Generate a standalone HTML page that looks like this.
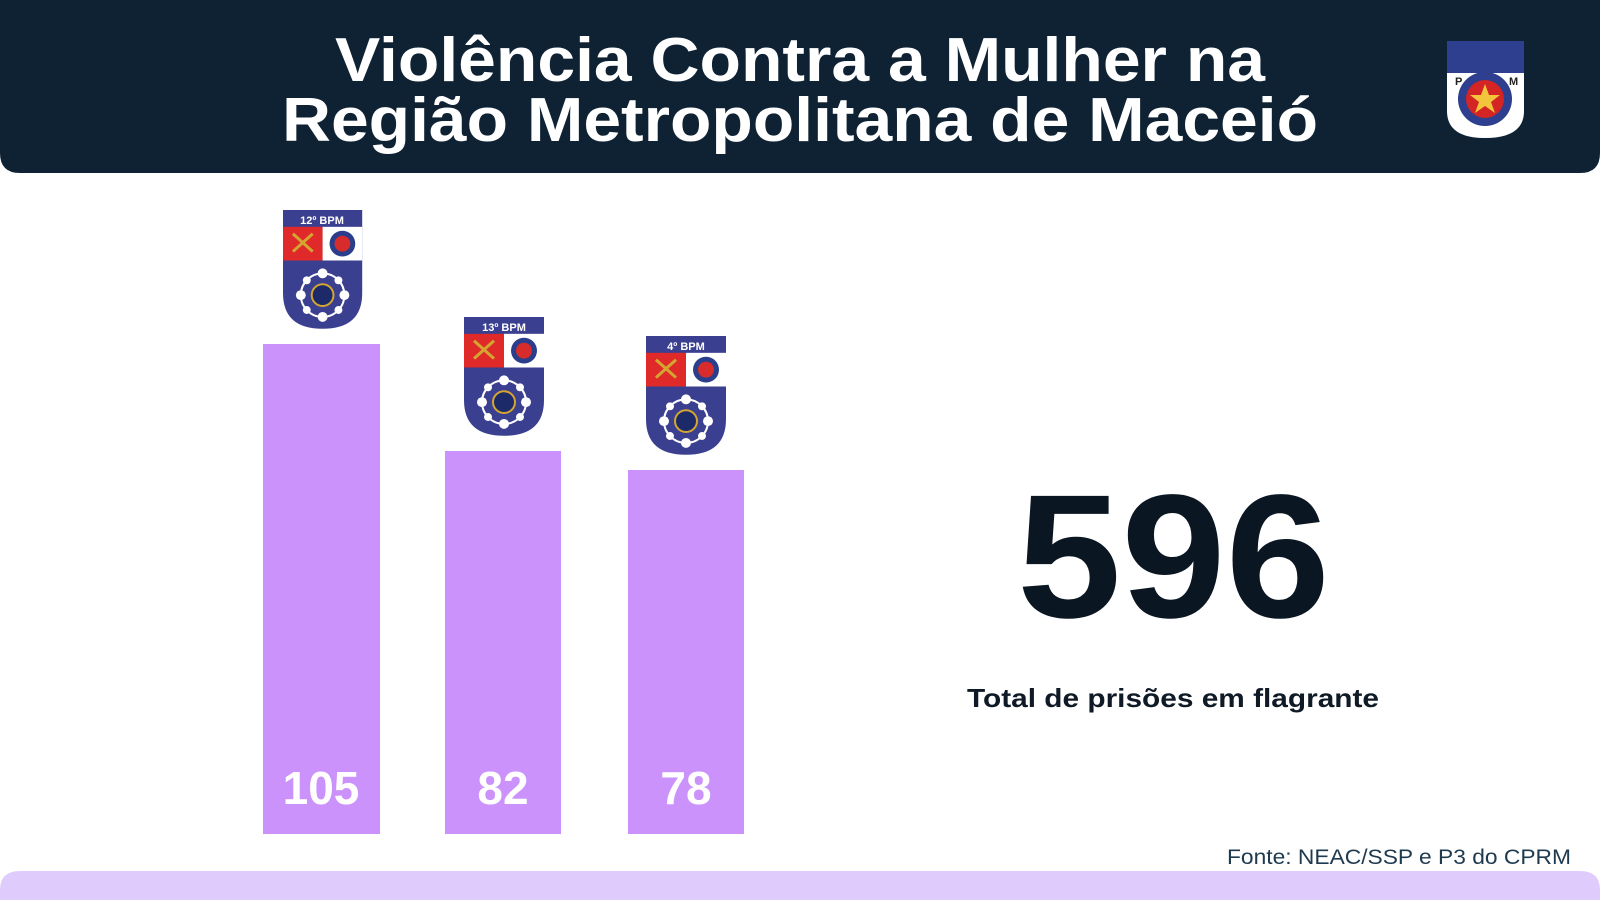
<!DOCTYPE html>
<html><head><meta charset="utf-8"><style>
html,body{margin:0;padding:0;width:1600px;height:900px;overflow:hidden;background:#fff}
svg{display:block}
</style></head><body>
<svg width="1600" height="900" viewBox="0 0 1600 900" xmlns="http://www.w3.org/2000/svg">
<defs>
<g id="badge">
 <path d="M0,0 H80 V84 Q80,120 40,120 Q0,120 0,84 Z" fill="#3a3f8f"/>
 <rect x="0" y="17" width="40" height="34" fill="#e02a2a"/>
 <rect x="40" y="17" width="40" height="34" fill="#fff"/>
 <path d="M10,42 L30,24 M10,24 L30,42" stroke="#d4a630" stroke-width="3"/>
 <circle cx="60" cy="34" r="13" fill="#2b3e8c"/>
 <circle cx="60" cy="34" r="8" fill="#d82b2b"/>
 <circle cx="40" cy="86" r="22" fill="none" stroke="#fff" stroke-width="2"/>
 <circle cx="40" cy="86" r="11" fill="#1c2a6a" stroke="#d4a630" stroke-width="2"/>
 <circle cx="40" cy="64" r="5" fill="#fff"/><circle cx="62" cy="86" r="5" fill="#fff"/>
 <circle cx="18" cy="86" r="5" fill="#fff"/><circle cx="40" cy="108" r="5" fill="#fff"/>
 <circle cx="56" cy="71" r="4" fill="#fff"/><circle cx="24" cy="71" r="4" fill="#fff"/>
 <circle cx="56" cy="101" r="4" fill="#fff"/><circle cx="24" cy="101" r="4" fill="#fff"/>
</g>
</defs>
<path d="M0,0 H1600 V153 Q1600,173 1580,173 H20 Q0,173 0,153 Z" fill="#0f2233"/>
<g font-family="Liberation Sans, sans-serif" font-weight="bold" fill="#fff" font-size="62">
<text x="335" y="81" textLength="930" lengthAdjust="spacingAndGlyphs">Violência Contra a Mulher na</text>
<text x="282" y="141" textLength="1036" lengthAdjust="spacingAndGlyphs">Região Metropolitana de Maceió</text>
</g>
<g transform="translate(1447,41)">
 <path d="M0,0 H77 V70 Q77,97 38,97 Q0,97 0,70 Z" fill="#fff"/>
 <rect x="0" y="0" width="77" height="32" fill="#2d3f8e"/>
 <circle cx="38" cy="58" r="27" fill="#2d3f8e"/>
 <circle cx="38" cy="58" r="19" fill="#d42424"/>
 <polygon points="38,43 42,54 53,54 44,61 48,72 38,65 28,72 32,61 23,54 34,54" fill="#f2c53d"/>
 <text x="8" y="44" font-family="Liberation Sans" font-weight="bold" font-size="11" fill="#222">P</text>
 <text x="62" y="44" font-family="Liberation Sans" font-weight="bold" font-size="11" fill="#222">M</text>
</g>
<g fill="#cc92fc">
<rect x="263" y="344" width="117" height="490"/>
<rect x="445" y="451" width="116" height="383"/>
<rect x="628" y="470" width="116" height="364"/>
</g>
<g font-family="Liberation Sans, sans-serif" font-weight="bold" fill="#fff" text-anchor="middle" font-size="46">
<text x="321" y="804">105</text>
<text x="503" y="804">82</text>
<text x="686" y="804">78</text>
</g>
<use href="#badge" transform="translate(283,210) scale(0.99,0.99)"/>
<use href="#badge" transform="translate(464,317) scale(1,0.99)"/>
<use href="#badge" transform="translate(646,336) scale(1,0.99)"/>
<g font-family="Liberation Sans, sans-serif" font-weight="bold" fill="#fff" text-anchor="middle" font-size="11">
<text x="322" y="224">12º BPM</text>
<text x="504" y="331">13º BPM</text>
<text x="686" y="350">4º BPM</text>
</g>
<text x="1017" y="617" font-family="Liberation Sans, sans-serif" font-weight="bold" font-size="176" fill="#0a1622" textLength="313" lengthAdjust="spacingAndGlyphs">596</text>
<text x="967" y="707" font-family="Liberation Sans, sans-serif" font-weight="bold" font-size="26" fill="#0f1a26" textLength="412" lengthAdjust="spacingAndGlyphs">Total de prisões em flagrante</text>
<text x="1227" y="864" font-family="Liberation Sans, sans-serif" font-size="21" fill="#1e3a4f" textLength="344" lengthAdjust="spacingAndGlyphs">Fonte: NEAC/SSP e P3 do CPRM</text>
<path d="M0,900 V890 Q0,871 20,871 H1580 Q1600,871 1600,890 V900 Z" fill="#e0ccfc"/>
</svg>
</body></html>
